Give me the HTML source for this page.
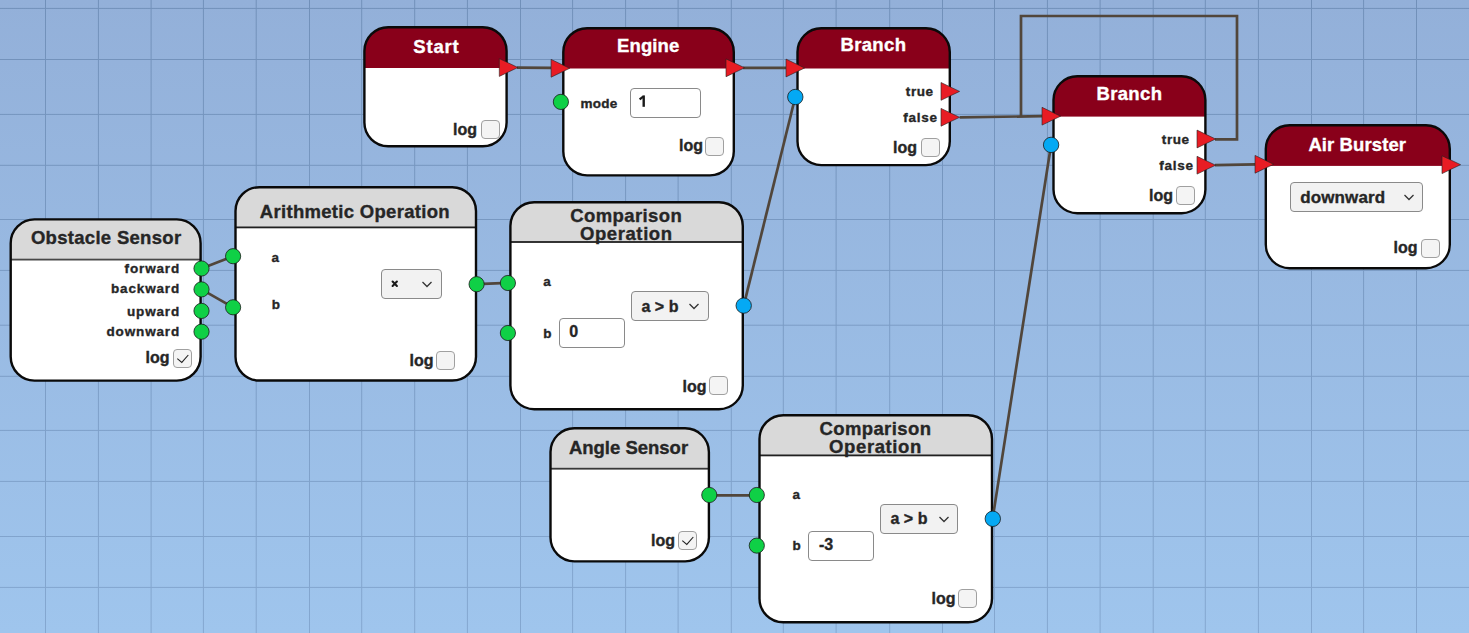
<!DOCTYPE html>
<html><head><meta charset="utf-8"><style>
html,body{margin:0;padding:0;width:1469px;height:633px;overflow:hidden;}
body{position:relative;background:linear-gradient(to bottom,#93b0d9,#9fc5ed);font-family:"Liberation Sans",sans-serif;font-weight:bold;color:#262626;}
.abs{position:absolute;left:0;top:0;}
.t{position:absolute;white-space:nowrap;line-height:20px;-webkit-text-stroke:0.35px currentColor;}
.cb{position:absolute;box-sizing:border-box;border:1.3px solid #a0a0a0;border-radius:4px;background:#f4f4f4;}
.inp{position:absolute;box-sizing:border-box;border:1.3px solid #8a8a8a;border-radius:4px;background:#fff;}
.sel{position:absolute;box-sizing:border-box;border:1.3px solid #8a8a8a;border-radius:4px;background:#f2f2f2;}
</style></head><body>

<svg class="abs" width="1469" height="633" viewBox="0 0 1469 633"><defs><linearGradient id="gg" gradientUnits="userSpaceOnUse" x1="0" y1="0" x2="0" y2="633"><stop offset="0" stop-color="#7190b9"/><stop offset="1" stop-color="#84a7d0"/></linearGradient></defs><rect x="45.00" y="0" width="1" height="633" fill="url(#gg)"/><rect x="97.90" y="0" width="1" height="633" fill="url(#gg)"/><rect x="150.60" y="0" width="1" height="633" fill="url(#gg)"/><rect x="202.90" y="0" width="1" height="633" fill="url(#gg)"/><rect x="255.70" y="0" width="1" height="633" fill="url(#gg)"/><rect x="309.00" y="0" width="1" height="633" fill="url(#gg)"/><rect x="361.20" y="0" width="1" height="633" fill="url(#gg)"/><rect x="414.20" y="0" width="1" height="633" fill="url(#gg)"/><rect x="466.90" y="0" width="1" height="633" fill="url(#gg)"/><rect x="520.00" y="0" width="1" height="633" fill="url(#gg)"/><rect x="572.10" y="0" width="1" height="633" fill="url(#gg)"/><rect x="625.10" y="0" width="1" height="633" fill="url(#gg)"/><rect x="677.60" y="0" width="1" height="633" fill="url(#gg)"/><rect x="730.80" y="0" width="1" height="633" fill="url(#gg)"/><rect x="782.80" y="0" width="1" height="633" fill="url(#gg)"/><rect x="835.60" y="0" width="1" height="633" fill="url(#gg)"/><rect x="889.20" y="0" width="1" height="633" fill="url(#gg)"/><rect x="942.00" y="0" width="1" height="633" fill="url(#gg)"/><rect x="994.00" y="0" width="1" height="633" fill="url(#gg)"/><rect x="1046.90" y="0" width="1" height="633" fill="url(#gg)"/><rect x="1099.60" y="0" width="1" height="633" fill="url(#gg)"/><rect x="1152.70" y="0" width="1" height="633" fill="url(#gg)"/><rect x="1204.80" y="0" width="1" height="633" fill="url(#gg)"/><rect x="1257.90" y="0" width="1" height="633" fill="url(#gg)"/><rect x="1311.00" y="0" width="1" height="633" fill="url(#gg)"/><rect x="1363.10" y="0" width="1" height="633" fill="url(#gg)"/><rect x="1416.00" y="0" width="1" height="633" fill="url(#gg)"/><rect x="0" y="7.90" width="1469" height="1" fill="url(#gg)"/><rect x="0" y="59.00" width="1469" height="1" fill="url(#gg)"/><rect x="0" y="113.90" width="1469" height="1" fill="url(#gg)"/><rect x="0" y="164.80" width="1469" height="1" fill="url(#gg)"/><rect x="0" y="219.00" width="1469" height="1" fill="url(#gg)"/><rect x="0" y="269.90" width="1469" height="1" fill="url(#gg)"/><rect x="0" y="324.70" width="1469" height="1" fill="url(#gg)"/><rect x="0" y="375.80" width="1469" height="1" fill="url(#gg)"/><rect x="0" y="429.90" width="1469" height="1" fill="url(#gg)"/><rect x="0" y="480.90" width="1469" height="1" fill="url(#gg)"/><rect x="0" y="536.00" width="1469" height="1" fill="url(#gg)"/><rect x="0" y="586.90" width="1469" height="1" fill="url(#gg)"/></svg>
<svg class="abs" width="1469" height="633" viewBox="0 0 1469 633"><clipPath id="c0"><rect x="10.7" y="219.39999999999998" width="189.9" height="161.20000000000002" rx="23.8" ry="23.8"/></clipPath><g clip-path="url(#c0)"><rect x="9.5" y="218.2" width="192.3" height="163.60000000000002" fill="#fff"/><rect x="9.5" y="218.2" width="192.3" height="41.400000000000034" fill="#d9d9d9"/><rect x="9.5" y="258.70000000000005" width="192.3" height="1.8" fill="#484848"/></g><rect x="10.7" y="219.39999999999998" width="189.9" height="161.20000000000002" rx="23.8" ry="23.8" fill="none" stroke="#0a0a0a" stroke-width="2.4"/><clipPath id="c1"><rect x="235.5" y="187.2" width="240.49999999999997" height="193.29999999999998" rx="23.8" ry="23.8"/></clipPath><g clip-path="url(#c1)"><rect x="234.3" y="186" width="242.89999999999998" height="195.7" fill="#fff"/><rect x="234.3" y="186" width="242.89999999999998" height="41.400000000000006" fill="#d9d9d9"/><rect x="234.3" y="226.5" width="242.89999999999998" height="1.8" fill="#202020"/></g><rect x="235.5" y="187.2" width="240.49999999999997" height="193.29999999999998" rx="23.8" ry="23.8" fill="none" stroke="#0a0a0a" stroke-width="2.4"/><clipPath id="c2"><rect x="364.4" y="27.2" width="142.20000000000002" height="119.1" rx="23.8" ry="23.8"/></clipPath><g clip-path="url(#c2)"><rect x="363.2" y="26" width="144.60000000000002" height="121.5" fill="#fff"/><rect x="363.2" y="26" width="144.60000000000002" height="42" fill="#89001a"/></g><rect x="364.4" y="27.2" width="142.20000000000002" height="119.1" rx="23.8" ry="23.8" fill="none" stroke="#0a0a0a" stroke-width="2.4"/><clipPath id="c3"><rect x="563.3000000000001" y="28.2" width="170.49999999999997" height="147.2" rx="23.8" ry="23.8"/></clipPath><g clip-path="url(#c3)"><rect x="562.1" y="27" width="172.89999999999998" height="149.6" fill="#fff"/><rect x="562.1" y="27" width="172.89999999999998" height="41.5" fill="#89001a"/></g><rect x="563.3000000000001" y="28.2" width="170.49999999999997" height="147.2" rx="23.8" ry="23.8" fill="none" stroke="#0a0a0a" stroke-width="2.4"/><clipPath id="c4"><rect x="797.5" y="28.3" width="152.30000000000004" height="136.8" rx="23.8" ry="23.8"/></clipPath><g clip-path="url(#c4)"><rect x="796.3" y="27.1" width="154.70000000000005" height="139.20000000000002" fill="#fff"/><rect x="796.3" y="27.1" width="154.70000000000005" height="41.4" fill="#89001a"/></g><rect x="797.5" y="28.3" width="152.30000000000004" height="136.8" rx="23.8" ry="23.8" fill="none" stroke="#0a0a0a" stroke-width="2.4"/><clipPath id="c5"><rect x="1053.5" y="76.3" width="151.89999999999995" height="136.9" rx="23.8" ry="23.8"/></clipPath><g clip-path="url(#c5)"><rect x="1052.3" y="75.1" width="154.29999999999995" height="139.3" fill="#fff"/><rect x="1052.3" y="75.1" width="154.29999999999995" height="41.5" fill="#89001a"/></g><rect x="1053.5" y="76.3" width="151.89999999999995" height="136.9" rx="23.8" ry="23.8" fill="none" stroke="#0a0a0a" stroke-width="2.4"/><clipPath id="c6"><rect x="1265.8" y="125.3" width="184.00000000000009" height="142.89999999999998" rx="23.8" ry="23.8"/></clipPath><g clip-path="url(#c6)"><rect x="1264.6" y="124.1" width="186.4000000000001" height="145.29999999999998" fill="#fff"/><rect x="1264.6" y="124.1" width="186.4000000000001" height="41.80000000000001" fill="#89001a"/></g><rect x="1265.8" y="125.3" width="184.00000000000009" height="142.89999999999998" rx="23.8" ry="23.8" fill="none" stroke="#0a0a0a" stroke-width="2.4"/><clipPath id="c7"><rect x="510.4" y="202.2" width="232.4" height="206.99999999999997" rx="23.8" ry="23.8"/></clipPath><g clip-path="url(#c7)"><rect x="509.2" y="201" width="234.8" height="209.39999999999998" fill="#fff"/><rect x="509.2" y="201" width="234.8" height="41" fill="#d9d9d9"/><rect x="509.2" y="241.1" width="234.8" height="1.8" fill="#202020"/></g><rect x="510.4" y="202.2" width="232.4" height="206.99999999999997" rx="23.8" ry="23.8" fill="none" stroke="#0a0a0a" stroke-width="2.4"/><clipPath id="c8"><rect x="550.5" y="428.3" width="158.40000000000006" height="133.1" rx="23.8" ry="23.8"/></clipPath><g clip-path="url(#c8)"><rect x="549.3" y="427.1" width="160.80000000000007" height="135.5" fill="#fff"/><rect x="549.3" y="427.1" width="160.80000000000007" height="41.599999999999966" fill="#d9d9d9"/><rect x="549.3" y="467.8" width="160.80000000000007" height="1.8" fill="#383838"/></g><rect x="550.5" y="428.3" width="158.40000000000006" height="133.1" rx="23.8" ry="23.8" fill="none" stroke="#0a0a0a" stroke-width="2.4"/><clipPath id="c9"><rect x="759.5" y="415.2" width="232.50000000000009" height="207.1" rx="23.8" ry="23.8"/></clipPath><g clip-path="url(#c9)"><rect x="758.3" y="414" width="234.9000000000001" height="209.5" fill="#fff"/><rect x="758.3" y="414" width="234.9000000000001" height="41.39999999999998" fill="#d9d9d9"/><rect x="758.3" y="454.5" width="234.9000000000001" height="1.8" fill="#202020"/></g><rect x="759.5" y="415.2" width="232.50000000000009" height="207.1" rx="23.8" ry="23.8" fill="none" stroke="#0a0a0a" stroke-width="2.4"/></svg>
<div class="t" style="top:227.79px;font-size:18.5px;letter-spacing:0.3px;left:-193.85px;width:600px;text-align:center;">Obstacle Sensor</div>
<div class="t" style="top:258.87px;font-size:13.5px;letter-spacing:0.85px;right:1288.95px;">forward</div>
<div class="t" style="top:279.12px;font-size:13.5px;letter-spacing:0.85px;right:1288.95px;">backward</div>
<div class="t" style="top:301.72px;font-size:13.5px;letter-spacing:0.85px;right:1288.95px;">upward</div>
<div class="t" style="top:322.02px;font-size:13.5px;letter-spacing:0.85px;right:1288.95px;">downward</div>
<div class="t" style="top:347.96px;font-size:16px;right:1299.50px;">log</div>
<div class="cb" style="left:173.3px;top:348.7px;width:19px;height:19px;"></div>
<svg class="abs" style="left:173.3px;top:348.7px" width="19" height="19" viewBox="0 0 19 19"><path d="M4.3 9.6 L8.8 13.4 L15.3 6" fill="none" stroke="#222" stroke-width="1.1"/></svg>
<div class="t" style="top:202.39px;font-size:18.5px;letter-spacing:0.3px;left:54.85px;width:600px;text-align:center;">Arithmetic Operation</div>
<div class="t" style="top:248.02px;font-size:13.5px;left:271.50px;">a</div>
<div class="t" style="top:295.02px;font-size:13.5px;left:271.70px;">b</div>
<div class="sel" style="left:381px;top:269px;width:61px;height:30px;"></div>
<div class="t" style="top:275.85px;font-size:14px;left:390.00px;"></div>
<svg class="abs" style="left:421px;top:278.0px" width="12" height="12" viewBox="0 0 12 12"><path d="M1.5 4 L6 8.5 L10.5 4" fill="none" stroke="#333" stroke-width="1.3"/></svg>
<svg class="abs" style="left:0;top:0" width="1469" height="633"><path d="M392.6 281.6 L396.9 285.9 M396.9 281.6 L392.6 285.9" stroke="#1a1a1a" stroke-width="2.1" stroke-linecap="round"/></svg>
<div class="t" style="top:351.16px;font-size:16px;right:1035.50px;">log</div>
<div class="cb" style="left:436px;top:351px;width:19px;height:19px;"></div>
<div class="t" style="top:37.09px;font-size:18.5px;letter-spacing:0.8px;color:#fff;left:136.40px;width:600px;text-align:center;">Start</div>
<div class="t" style="top:119.66px;font-size:16px;right:992.00px;">log</div>
<div class="cb" style="left:480.6px;top:120.4px;width:19px;height:19px;"></div>
<div class="t" style="top:36.39px;font-size:18.5px;letter-spacing:0.1px;color:#fff;left:348.25px;width:600px;text-align:center;">Engine</div>
<div class="t" style="top:93.72px;font-size:13.5px;letter-spacing:0.25px;left:580.40px;">mode</div>
<div class="inp" style="left:630px;top:88px;width:71px;height:30px;"></div>
<div class="t" style="top:92.16px;font-size:16px;left:639.50px;"></div>
<svg class="abs" width="1469" height="633"><rect x="642.5" y="95.4" width="2.4" height="11.4" fill="#1a1a1a"/><path d="M639.6 99.4 L643.2 96.6" fill="none" stroke="#1a1a1a" stroke-width="2.2"/></svg>
<div class="t" style="top:136.16px;font-size:16px;right:766.00px;">log</div>
<div class="cb" style="left:705.3px;top:137.2px;width:19px;height:19px;"></div>
<div class="t" style="top:35.19px;font-size:18.5px;letter-spacing:0.35px;color:#fff;left:573.38px;width:600px;text-align:center;">Branch</div>
<div class="t" style="top:82.02px;font-size:13.5px;letter-spacing:0.55px;right:535.45px;">true</div>
<div class="t" style="top:108.02px;font-size:13.5px;letter-spacing:0.75px;right:531.25px;">false</div>
<div class="t" style="top:137.66px;font-size:16px;right:552.00px;">log</div>
<div class="cb" style="left:920.6px;top:138.2px;width:19px;height:19px;"></div>
<div class="t" style="top:83.69px;font-size:18.5px;letter-spacing:0.35px;color:#fff;left:829.38px;width:600px;text-align:center;">Branch</div>
<div class="t" style="top:130.02px;font-size:13.5px;letter-spacing:0.55px;right:279.45px;">true</div>
<div class="t" style="top:156.02px;font-size:13.5px;letter-spacing:0.75px;right:275.25px;">false</div>
<div class="t" style="top:185.66px;font-size:16px;right:296.00px;">log</div>
<div class="cb" style="left:1176.3px;top:186px;width:19px;height:19px;"></div>
<div class="t" style="top:135.19px;font-size:18.5px;letter-spacing:0.1px;color:#fff;left:1057.25px;width:600px;text-align:center;">Air Burster</div>
<div class="sel" style="left:1290px;top:182px;width:133px;height:30px;"></div>
<div class="t" style="top:187.31px;font-size:17px;left:1300.00px;"></div>
<svg class="abs" style="left:1402.5px;top:191.0px" width="12" height="12" viewBox="0 0 12 12"><path d="M1.5 4 L6 8.5 L10.5 4" fill="none" stroke="#333" stroke-width="1.3"/></svg>
<div class="t" style="top:187.81px;font-size:17px;letter-spacing:0.12px;left:1300.20px;">downward</div>
<div class="t" style="top:238.16px;font-size:16px;right:51.50px;">log</div>
<div class="cb" style="left:1421.1px;top:239.1px;width:19px;height:19px;"></div>
<div class="t" style="top:205.99px;font-size:18.5px;letter-spacing:0.4px;left:326.20px;width:600px;text-align:center;">Comparison</div>
<div class="t" style="top:223.89px;font-size:18.5px;letter-spacing:0.6px;left:326.30px;width:600px;text-align:center;">Operation</div>
<div class="t" style="top:272.02px;font-size:13.5px;left:543.20px;">a</div>
<div class="t" style="top:324.02px;font-size:13.5px;left:543.20px;">b</div>
<div class="inp" style="left:559px;top:318px;width:66px;height:30px;"></div>
<div class="t" style="top:322.16px;font-size:16px;left:569.30px;">0</div>
<div class="sel" style="left:631px;top:291px;width:78px;height:30px;"></div>
<div class="t" style="top:297.16px;font-size:16px;left:641.50px;">a &gt; b</div>
<svg class="abs" style="left:688px;top:300.0px" width="12" height="12" viewBox="0 0 12 12"><path d="M1.5 4 L6 8.5 L10.5 4" fill="none" stroke="#333" stroke-width="1.3"/></svg>
<div class="t" style="top:376.66px;font-size:16px;right:762.50px;">log</div>
<div class="cb" style="left:709.1px;top:376.1px;width:19px;height:19px;"></div>
<div class="t" style="top:438.19px;font-size:18.5px;left:328.50px;width:600px;text-align:center;">Angle Sensor</div>
<div class="t" style="top:531.16px;font-size:16px;right:794.00px;">log</div>
<div class="cb" style="left:678.2px;top:531.2px;width:19px;height:19px;"></div>
<svg class="abs" style="left:678.2px;top:531.2px" width="19" height="19" viewBox="0 0 19 19"><path d="M4.3 9.6 L8.8 13.4 L15.3 6" fill="none" stroke="#222" stroke-width="1.1"/></svg>
<div class="t" style="top:419.19px;font-size:18.5px;letter-spacing:0.4px;left:575.40px;width:600px;text-align:center;">Comparison</div>
<div class="t" style="top:437.29px;font-size:18.5px;letter-spacing:0.6px;left:575.50px;width:600px;text-align:center;">Operation</div>
<div class="t" style="top:485.02px;font-size:13.5px;left:792.40px;">a</div>
<div class="t" style="top:536.02px;font-size:13.5px;left:792.40px;">b</div>
<div class="inp" style="left:808px;top:531px;width:66px;height:30px;"></div>
<div class="t" style="top:535.26px;font-size:16px;left:819.00px;">-3</div>
<div class="sel" style="left:880px;top:504px;width:78px;height:30px;"></div>
<div class="t" style="top:509.46px;font-size:16px;left:890.50px;">a &gt; b</div>
<svg class="abs" style="left:937.5px;top:513.0px" width="12" height="12" viewBox="0 0 12 12"><path d="M1.5 4 L6 8.5 L10.5 4" fill="none" stroke="#333" stroke-width="1.3"/></svg>
<div class="t" style="top:589.16px;font-size:16px;right:513.50px;">log</div>
<div class="cb" style="left:958.2px;top:589.1px;width:19px;height:19px;"></div>
<svg class="abs" width="1469" height="633" viewBox="0 0 1469 633"><path d="M201.5 268.5 L233.1 256.2" fill="none" stroke="#51463b" stroke-width="2.7"/><path d="M201.5 289.4 L233.1 307.3" fill="none" stroke="#51463b" stroke-width="2.7"/><path d="M476.6 284.2 L507.9 282.9" fill="none" stroke="#51463b" stroke-width="2.7"/><path d="M709.3 495.3 L756.8 495.4" fill="none" stroke="#51463b" stroke-width="2.7"/><path d="M517 67.6 L551 67.8" fill="none" stroke="#51463b" stroke-width="2.7"/><path d="M743 67.8 L786 67.8" fill="none" stroke="#51463b" stroke-width="2.7"/><path d="M743.7 305.6 L795.3 97" fill="none" stroke="#51463b" stroke-width="2.7"/><path d="M992.6 518.7 L1051 145.2" fill="none" stroke="#51463b" stroke-width="2.7"/><path d="M959.7 117.3 L1042 116.2" fill="none" stroke="#51463b" stroke-width="2.7"/><path d="M1021 116.5 L1021 16 L1237 16 L1237 139.3 L1215 139.3" fill="none" stroke="#51463b" stroke-width="2.7"/><path d="M1215 165.2 L1255 164.3" fill="none" stroke="#51463b" stroke-width="2.7"/><circle cx="201.5" cy="268.5" r="7.6" fill="#0fd046" stroke="#1a1a1a" stroke-width="0.8"/><circle cx="201.5" cy="289.4" r="7.6" fill="#0fd046" stroke="#1a1a1a" stroke-width="0.8"/><circle cx="201.5" cy="310.9" r="7.6" fill="#0fd046" stroke="#1a1a1a" stroke-width="0.8"/><circle cx="201.5" cy="331.7" r="7.6" fill="#0fd046" stroke="#1a1a1a" stroke-width="0.8"/><circle cx="233.1" cy="256.2" r="7.6" fill="#0fd046" stroke="#1a1a1a" stroke-width="0.8"/><circle cx="233.1" cy="307.3" r="7.6" fill="#0fd046" stroke="#1a1a1a" stroke-width="0.8"/><circle cx="476.6" cy="284.2" r="7.6" fill="#0fd046" stroke="#1a1a1a" stroke-width="0.8"/><circle cx="507.9" cy="283" r="7.6" fill="#0fd046" stroke="#1a1a1a" stroke-width="0.8"/><circle cx="507.9" cy="333" r="7.6" fill="#0fd046" stroke="#1a1a1a" stroke-width="0.8"/><circle cx="560.9" cy="101.9" r="7.6" fill="#0fd046" stroke="#1a1a1a" stroke-width="0.8"/><circle cx="709.3" cy="495" r="7.6" fill="#0fd046" stroke="#1a1a1a" stroke-width="0.8"/><circle cx="756.8" cy="495" r="7.6" fill="#0fd046" stroke="#1a1a1a" stroke-width="0.8"/><circle cx="756.8" cy="545.6" r="7.6" fill="#0fd046" stroke="#1a1a1a" stroke-width="0.8"/><circle cx="795.3" cy="97" r="7.7" fill="#04a9f4" stroke="#1a1a1a" stroke-width="0.8"/><circle cx="743.7" cy="305.6" r="7.7" fill="#04a9f4" stroke="#1a1a1a" stroke-width="0.8"/><circle cx="1051.1" cy="144.9" r="7.7" fill="#04a9f4" stroke="#1a1a1a" stroke-width="0.8"/><circle cx="992.8" cy="518.8" r="7.7" fill="#04a9f4" stroke="#1a1a1a" stroke-width="0.8"/><path d="M499.3 58.6 L517.9 67.5 L499.3 76.4 Z" fill="#e81c24" stroke="#222" stroke-width="0.6" stroke-linejoin="miter"/><path d="M551.1 59.4 L569.7 68.3 L551.1 77.2 Z" fill="#e81c24" stroke="#222" stroke-width="0.6" stroke-linejoin="miter"/><path d="M726 58.9 L744.6 67.8 L726 76.7 Z" fill="#e81c24" stroke="#222" stroke-width="0.6" stroke-linejoin="miter"/><path d="M786 59.1 L804.6 68 L786 76.9 Z" fill="#e81c24" stroke="#222" stroke-width="0.6" stroke-linejoin="miter"/><path d="M941 82.5 L959.6 91.4 L941 100.30000000000001 Z" fill="#e81c24" stroke="#222" stroke-width="0.6" stroke-linejoin="miter"/><path d="M941 108.39999999999999 L959.6 117.3 L941 126.2 Z" fill="#e81c24" stroke="#222" stroke-width="0.6" stroke-linejoin="miter"/><path d="M1042 107.3 L1060.6 116.2 L1042 125.10000000000001 Z" fill="#e81c24" stroke="#222" stroke-width="0.6" stroke-linejoin="miter"/><path d="M1197 130.1 L1215.6 139 L1197 147.9 Z" fill="#e81c24" stroke="#222" stroke-width="0.6" stroke-linejoin="miter"/><path d="M1197 156.29999999999998 L1215.6 165.2 L1197 174.1 Z" fill="#e81c24" stroke="#222" stroke-width="0.6" stroke-linejoin="miter"/><path d="M1255 155.4 L1273.6 164.3 L1255 173.20000000000002 Z" fill="#e81c24" stroke="#222" stroke-width="0.6" stroke-linejoin="miter"/><path d="M1442 155.79999999999998 L1460.6 164.7 L1442 173.6 Z" fill="#e81c24" stroke="#222" stroke-width="0.6" stroke-linejoin="miter"/></svg>
</body></html>
